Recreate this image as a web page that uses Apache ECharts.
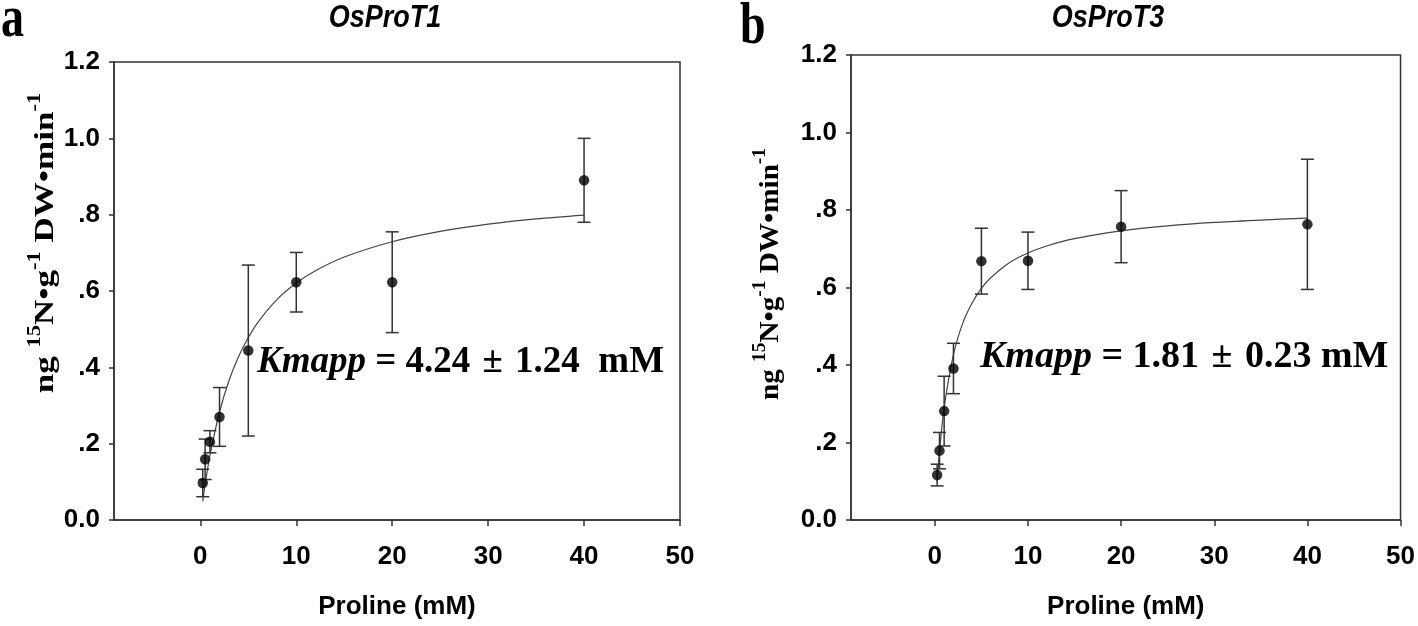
<!DOCTYPE html>
<html><head><meta charset="utf-8">
<script src="https://cdn.jsdelivr.net/npm/echarts@6/dist/echarts.min.js"></script>
<style>html,body{margin:0;padding:0;background:#fff}#c{width:1418px;height:626px}</style>
</head><body><div id="c"></div>
<script>
// ---- data ----
const proline = [0.25, 0.5, 1, 2, 5, 10, 20, 40];           // mM
const t1Mean = [0.097, 0.159, 0.205, 0.270, 0.444, 0.623, 0.623, 0.890];
const t1Err  = [0.036, 0.053, 0.029, 0.077, 0.224, 0.078, 0.132, 0.110];
const t3Mean = [0.116, 0.179, 0.281, 0.391, 0.668, 0.669, 0.757, 0.763];
const t3Err  = [0.028, 0.047, 0.090, 0.065, 0.085, 0.074, 0.093, 0.168];
// fitted curves
const fitX   = [0.25, 0.5, 1, 2, 3, 4, 5, 6, 8, 10, 12, 15, 20, 25, 30, 35, 40];
const t1Fit  = [0.049, 0.093, 0.169, 0.283, 0.366, 0.429, 0.478, 0.518, 0.578, 0.621, 0.653, 0.689, 0.729, 0.756, 0.775, 0.789, 0.799];
const t3Fit  = [0.099, 0.176, 0.290, 0.427, 0.508, 0.560, 0.598, 0.625, 0.664, 0.689, 0.707, 0.726, 0.746, 0.759, 0.768, 0.774, 0.779];
const xTicks = [0, 10, 20, 30, 40, 50];
const titles = ['OsProT1', 'OsProT3'];
const panelLetters = ['a', 'b'];
const kmTexts = [['Kmapp', ' = 4.24 ', '\u00B1', ' 1.24  mM'], ['Kmapp', ' = 1.81 ', '\u00B1', ' 0.23 mM']];

const chart = echarts.init(document.getElementById('c'), null, {renderer: 'canvas'});
const AX = '#333';
const sans = "'Liberation Sans', Arial, sans-serif";
const serif = "'Liberation Serif', 'Times New Roman', serif";

function yFmt(v) {
  if (v === 0) return '0.0';
  const s = v.toFixed(1);
  return v < 1 ? s.replace(/^0/, '') : s;
}

function xAxis(idx) {
  return {
    type: 'value', gridIndex: idx, min: -9, max: 50,
    name: 'Proline (mM)', nameLocation: 'middle', nameGap: 74,
    nameTextStyle: {fontFamily: sans, fontWeight: 'bold', fontSize: 26, color: '#000'},
    axisLine: {show: true, onZero: false, lineStyle: {color: AX, width: 1.5}},
    axisTick: {show: true, customValues: xTicks, length: 6, lineStyle: {color: AX, width: 1.5}},
    axisLabel: {customValues: xTicks, margin: 24, fontFamily: sans, fontWeight: 'bold', fontSize: 26, color: '#000'},
    splitLine: {show: false}
  };
}
function yAxis(idx) {
  return {
    type: 'value', gridIndex: idx, min: 0, max: 1.2, interval: 0.2,
    axisLine: {show: true, onZero: false, lineStyle: {color: AX, width: 1.5}},
    axisTick: {show: true, length: 5, lineStyle: {color: AX, width: 1.5}},
    axisLabel: {formatter: yFmt, margin: 14, fontFamily: sans, fontWeight: 'bold', fontSize: 26, color: '#000'},
    splitLine: {show: false}
  };
}
function errorSeries(idx, means, errs) {
  return {
    type: 'custom', xAxisIndex: idx, yAxisIndex: idx, z: 3,
    data: proline.map((x, i) => [x, means[i] - errs[i], means[i] + errs[i]]),
    renderItem(params, api) {
      const x = api.value(0);
      const lo = api.coord([x, api.value(1)]);
      const hi = api.coord([x, api.value(2)]);
      const w = 6.5;
      const style = {stroke: AX, lineWidth: 1.5};
      return {type: 'group', children: [
        {type: 'line', shape: {x1: lo[0], y1: lo[1], x2: hi[0], y2: hi[1]}, style},
        {type: 'line', shape: {x1: lo[0] - w, y1: lo[1], x2: lo[0] + w, y2: lo[1]}, style},
        {type: 'line', shape: {x1: hi[0] - w, y1: hi[1], x2: hi[0] + w, y2: hi[1]}, style}
      ]};
    }
  };
}
function fitSeries(idx, ys) {
  return {
    type: 'line', xAxisIndex: idx, yAxisIndex: idx, smooth: 0.3, showSymbol: false, z: 2,
    data: fitX.map((x, i) => [x, ys[i]]),
    lineStyle: {color: '#444', width: 1.2}
  };
}
function pointSeries(idx, ys) {
  return {
    type: 'scatter', xAxisIndex: idx, yAxisIndex: idx, z: 4,
    symbol: 'circle', symbolSize: 10.5,
    data: proline.map((x, i) => [x, ys[i]]),
    itemStyle: {color: '#000'}
  };
}
function ytitle(x, y, size, stretch) {
  const sup = Math.round(size * 0.65);
  return {
    type: 'text', x: x, y: y, rotation: Math.PI / 2, scaleX: stretch, scaleY: 1,
    style: {
      text: '{m|ng }{s|15}{m|N\u2022g}{s|-1}{m| DW\u2022min}{s|-1}',
      align: 'center', verticalAlign: 'middle',
      rich: {
        m: {fontFamily: serif, fontWeight: 'bold', fontSize: size, fill: '#000', lineHeight: size * 1.2, verticalAlign: 'bottom'},
        s: {fontFamily: serif, fontWeight: 'bold', fontSize: sup, fill: '#000', lineHeight: size * 1.2, verticalAlign: 'top'}
      }
    }
  };
}
function kmText(x, y, parts, size) {
  return {
    type: 'text', x: x, y: y,
    style: {
      text: '{i|' + parts[0] + '}{n|' + parts[1] + '}{p|' + parts[2] + '}{n|' + parts[3] + '}',
      verticalAlign: 'middle',
      rich: {
        i: {fontFamily: serif, fontWeight: 'bold', fontStyle: 'italic', fontSize: size, fill: '#000'},
        n: {fontFamily: serif, fontWeight: 'bold', fontSize: size, fill: '#000'},
        p: {fontFamily: serif, fontWeight: 'bold', fontSize: size, fill: '#000', padding: [0, 3]}
      }
    }
  };
}
function letter(x, y, t) {
  return {type: 'text', x: x, y: y, scaleY: 1.3,
    style: {text: t, verticalAlign: 'middle', fontFamily: serif, fontWeight: 'bold', fontSize: 46, fill: '#000'}};
}
function ptitle(x, y, t) {
  return {type: 'text', x: x, y: y, scaleY: 1.15,
    style: {text: t, align: 'center', verticalAlign: 'middle', fontFamily: sans, fontWeight: 'bold', fontStyle: 'italic', fontSize: 27, fill: '#000'}};
}

chart.setOption({
  animation: false,
  backgroundColor: '#fff',
  grid: [
    {left: 114, top: 62, width: 566, height: 458, show: true, borderColor: AX, borderWidth: 1.5, containLabel: false},
    {left: 851, top: 55, width: 553, height: 465, show: true, borderColor: AX, borderWidth: 1.5, containLabel: false}
  ],
  xAxis: [xAxis(0), xAxis(1)],
  yAxis: [yAxis(0), yAxis(1)],
  series: [
    fitSeries(0, t1Fit), errorSeries(0, t1Mean, t1Err), pointSeries(0, t1Mean),
    fitSeries(1, t3Fit), errorSeries(1, t3Mean, t3Err), pointSeries(1, t3Mean)
  ],
  graphic: [
    letter(1, 21, panelLetters[0]),
    letter(740, 28, panelLetters[1]),
    ptitle(385, 18, titles[0]),
    ptitle(1108, 18, titles[1]),
    ytitle(43, 243, 28, 1.25),
    ytitle(768, 274, 27, 1.08),
    kmText(257, 362, kmTexts[0], 37),
    kmText(980, 357, kmTexts[1], 38)
  ]
});
</script></body></html>
